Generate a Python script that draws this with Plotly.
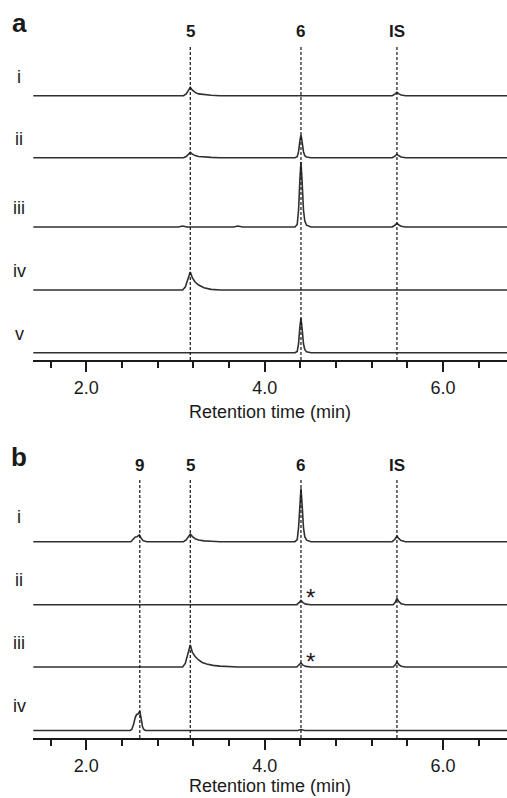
import plotly.graph_objects as go

# ---------------- data (retention time in min, signal in arbitrary units) ----------------
# Panel a
T_A_I = [1.40, 3.09, 3.12, 3.145, 3.166, 3.19, 3.22, 3.26, 3.32, 3.40, 3.50,
         5.43, 5.46, 5.483, 5.505, 5.53, 5.58, 6.80]
S_A_I = [0, 0, 1.8, 5.5, 8.3, 5.5, 3.3, 1.8, 0.9, 0.4, 0,
         0, 1.5, 3.3, 1.8, 0.7, 0, 0]

T_A_II = [1.40, 3.09, 3.12, 3.145, 3.166, 3.19, 3.22, 3.26, 3.32, 3.40, 3.50,
          4.34, 4.365, 4.38, 4.395, 4.407, 4.42, 4.435, 4.45, 4.47, 4.52,
          5.43, 5.46, 5.483, 5.505, 5.53, 5.58, 6.80]
S_A_II = [0, 0, 1.2, 3.5, 5.3, 3.5, 2.1, 1.2, 0.6, 0.3, 0,
          0, 1.0, 6.0, 17.0, 22.7, 16.0, 6.0, 2.0, 0.6, 0,
          0, 1.6, 3.5, 1.9, 0.7, 0, 0]

T_A_III = [1.40, 2.33, 2.38, 2.43, 3.03, 3.08, 3.13, 3.65, 3.70, 3.75,
           4.34, 4.365, 4.38, 4.395, 4.407, 4.42, 4.435, 4.45, 4.47, 4.52,
           5.43, 5.46, 5.483, 5.505, 5.53, 5.58, 6.80]
S_A_III = [0, 0, 0.5, 0, 0, 1.0, 0, 0, 1.0, 0,
           0, 2.5, 17.0, 48.0, 65.0, 45.0, 17.0, 6.0, 1.8, 0,
           0, 1.7, 3.8, 2.0, 0.8, 0, 0]

T_A_IV = [1.40, 3.08, 3.11, 3.14, 3.166, 3.19, 3.22, 3.26, 3.32, 3.40, 3.50, 6.80]
S_A_IV = [0, 0, 3.0, 11.0, 18.0, 12.0, 8.0, 5.0, 2.2, 0.6, 0, 0]

T_A_V = [1.40, 3.05, 3.10, 3.15, 3.67, 3.72, 3.77,
         4.34, 4.365, 4.38, 4.395, 4.407, 4.42, 4.435, 4.45, 4.47, 4.52, 6.80]
S_A_V = [0, 0, 0.7, 0, 0, 0.5, 0,
         0, 1.3, 9.0, 26.0, 34.7, 24.0, 9.0, 3.0, 1.0, 0, 0]

# Panel b
T_B_I = [1.40, 2.50, 2.525, 2.55, 2.57, 2.595, 2.615, 2.64, 2.68,
         3.09, 3.12, 3.145, 3.166, 3.19, 3.22, 3.26, 3.32, 3.40, 3.50,
         4.34, 4.365, 4.38, 4.395, 4.407, 4.42, 4.435, 4.45, 4.47, 4.52,
         5.43, 5.46, 5.483, 5.505, 5.53, 5.58, 6.80]
S_B_I = [0, 0, 2.5, 4.8, 5.0, 6.8, 3.5, 0.8, 0,
         0, 1.7, 5.1, 7.7, 5.1, 3.0, 1.7, 0.8, 0.4, 0,
         0, 2.0, 14.0, 39.0, 53.4, 37.0, 14.0, 5.0, 1.5, 0,
         0, 2.4, 5.5, 3.0, 1.1, 0, 0]

T_B_II = [1.40, 4.36, 4.385, 4.407, 4.43, 4.46, 4.52,
          5.44, 5.465, 5.483, 5.505, 5.53, 5.58, 6.80]
S_B_II = [0, 0, 2.0, 4.3, 2.0, 0.6, 0,
          0, 2.5, 6.3, 3.0, 1.0, 0, 0]

T_B_III = [1.40, 3.08, 3.11, 3.14, 3.166, 3.19, 3.22, 3.26, 3.30, 3.35, 3.42, 3.50, 3.60, 3.70,
           4.36, 4.385, 4.407, 4.43, 4.46, 4.52,
           5.44, 5.465, 5.483, 5.505, 5.53, 5.58, 6.80]
S_B_III = [0, 0, 3.5, 13.0, 22.0, 14.5, 10.5, 7.0, 4.5, 3.0, 1.6, 0.9, 0.3, 0,
           0, 1.8, 4.0, 1.8, 0.6, 0,
           0, 2.2, 5.0, 2.4, 0.8, 0, 0]

T_B_IV = [1.40, 2.49, 2.51, 2.53, 2.55, 2.565, 2.58, 2.60, 2.615, 2.63, 2.645, 2.665,
          4.37, 4.407, 4.45, 6.80]
S_B_IV = [0, 0, 1.0, 6.0, 13.5, 16.0, 16.5, 19.3, 12.0, 4.0, 1.0, 0,
          0, 1.0, 0, 0]

ROWS_A = ["i", "ii", "iii", "iv", "v"]
ROWS_B = ["i", "ii", "iii", "iv"]

MARKERS_A = ["5", "6", "IS"]
MARKER_RT_A = [3.166, 4.407, 5.483]
MARKERS_B = ["9", "5", "6", "IS"]
MARKER_RT_B = [2.600, 3.166, 4.407, 5.483]

STAR_RT = [4.511, 4.511]

TICK_VALS = [2.0, 4.0, 6.0]
TICK_TEXT = ["2.0", "4.0", "6.0"]
X_TITLE = "Retention time (min)"
PANELS = ["a", "b"]

# ---------------- layout geometry (pixels) ----------------
W, H = 507, 798
X_LEFT_PX = 33.3
X_RANGE = [1.406, 6.717]

A_AXIS_PX, A_TOP_PX = 360.0, 45.0
B_AXIS_PX, B_TOP_PX = 738.0, 479.3

# baseline offsets of each trace above the x-axis line (pixels)
OFFS_A = [264.3, 202.3, 133.0, 70.0, 7.3]
OFFS_B = [196.3, 133.3, 71.0, 7.5]


def py(y):
    return 1 - y / H


LINE_COL = "#303030"
TXT_COL = "#1a1a1a"
FONT = "Liberation Sans, Arial, sans-serif"

fig = go.Figure()

traces_a = [(T_A_I, S_A_I), (T_A_II, S_A_II), (T_A_III, S_A_III), (T_A_IV, S_A_IV), (T_A_V, S_A_V)]
traces_b = [(T_B_I, S_B_I), (T_B_II, S_B_II), (T_B_III, S_B_III), (T_B_IV, S_B_IV)]

for (t, s), off in zip(traces_a, OFFS_A):
    fig.add_trace(go.Scatter(x=t, y=[v + off for v in s], mode="lines",
                             line=dict(color=LINE_COL, width=1.6),
                             xaxis="x", yaxis="y", showlegend=False, hoverinfo="skip"))
for (t, s), off in zip(traces_b, OFFS_B):
    fig.add_trace(go.Scatter(x=t, y=[v + off for v in s], mode="lines",
                             line=dict(color=LINE_COL, width=1.6),
                             xaxis="x2", yaxis="y2", showlegend=False, hoverinfo="skip"))

DASH = dict(color="#151515", width=1.2, dash="3px,2px")
shapes = []
for rt in MARKER_RT_A:
    shapes.append(dict(type="line", xref="x", yref="y", x0=rt, x1=rt, y0=0, y1=A_AXIS_PX - A_TOP_PX,
                       line=DASH, layer="above"))
for rt in MARKER_RT_B:
    shapes.append(dict(type="line", xref="x2", yref="y2", x0=rt, x1=rt, y0=0, y1=B_AXIS_PX - B_TOP_PX,
                       line=DASH, layer="above"))

ann = []
# panel letters
for letter, base in zip(PANELS, [31.7, 466.0]):
    ann.append(dict(text="<b>%s</b>" % letter, x=19 / W, y=py(base - 0.347 * 26), xref="paper", yref="paper",
                    xanchor="center", yanchor="middle", showarrow=False,
                    font=dict(family=FONT, size=26, color=TXT_COL)))
# peak labels
for lab, rt in zip(MARKERS_A, MARKER_RT_A):
    ann.append(dict(text="<b>%s</b>" % lab, x=rt, xref="x", y=py(37.3 - 0.347 * 17), yref="paper",
                    xanchor="center", yanchor="middle", showarrow=False,
                    font=dict(family=FONT, size=17, color=TXT_COL)))
for lab, rt in zip(MARKERS_B, MARKER_RT_B):
    ann.append(dict(text="<b>%s</b>" % lab, x=rt, xref="x2", y=py(471.7 - 0.347 * 17), yref="paper",
                    xanchor="center", yanchor="middle", showarrow=False,
                    font=dict(family=FONT, size=17, color=TXT_COL)))
# row labels
for lab, off in zip(ROWS_A, OFFS_A):
    base = A_AXIS_PX - off - 12.8
    ann.append(dict(text=lab, x=19 / W, y=py(base - 0.347 * 18), xref="paper", yref="paper",
                    xanchor="center", yanchor="middle", showarrow=False,
                    font=dict(family=FONT, size=18, color=TXT_COL)))
for lab, off in zip(ROWS_B, OFFS_B):
    base = B_AXIS_PX - off - 18.2
    ann.append(dict(text=lab, x=19 / W, y=py(base - 0.347 * 18), xref="paper", yref="paper",
                    xanchor="center", yanchor="middle", showarrow=False,
                    font=dict(family=FONT, size=18, color=TXT_COL)))
# asterisks
for rt, yc in zip(STAR_RT, [597.4, 661.6]):
    ann.append(dict(text="*", x=rt, xref="x2", y=py(yc), yref="paper",
                    xanchor="center", yanchor="middle", showarrow=False,
                    font=dict(family=FONT, size=24, color=TXT_COL)))
# axis titles
for base in [418.3, 792.7]:
    ann.append(dict(text=X_TITLE, x=(X_LEFT_PX + W) / 2 / W, y=py(base - 0.347 * 18), xref="paper", yref="paper",
                    xanchor="center", yanchor="middle", showarrow=False,
                    font=dict(family=FONT, size=18, color=TXT_COL)))

xax = dict(range=X_RANGE, domain=[X_LEFT_PX / W, 1], showgrid=False, zeroline=False,
           showline=True, linecolor="#1a1a1a", linewidth=2,
           ticks="outside", ticklen=10, tickwidth=2, tickcolor="#1a1a1a",
           tickmode="array", tickvals=TICK_VALS, ticktext=TICK_TEXT,
           tickfont=dict(family=FONT, size=18, color=TXT_COL),
           minor=dict(dtick=0.4, tick0=0, ticks="outside", ticklen=6, tickwidth=2, tickcolor="#1a1a1a", showgrid=False),
           fixedrange=True)

fig.update_layout(
    width=W, height=H, margin=dict(l=0, r=0, t=0, b=0),
    paper_bgcolor="white", plot_bgcolor="white",
    xaxis=dict(xax, anchor="y"),
    xaxis2=dict(xax, anchor="y2"),
    yaxis=dict(domain=[py(A_AXIS_PX), py(A_TOP_PX)], range=[0, A_AXIS_PX - A_TOP_PX], visible=False, fixedrange=True),
    yaxis2=dict(domain=[py(B_AXIS_PX), py(B_TOP_PX)], range=[0, B_AXIS_PX - B_TOP_PX], visible=False, fixedrange=True),
    shapes=shapes, annotations=ann,
)

fig.write_html("out.html", config={"displayModeBar": False},
               post_script="document.body.style.margin='0';document.body.style.overflow='hidden';")
